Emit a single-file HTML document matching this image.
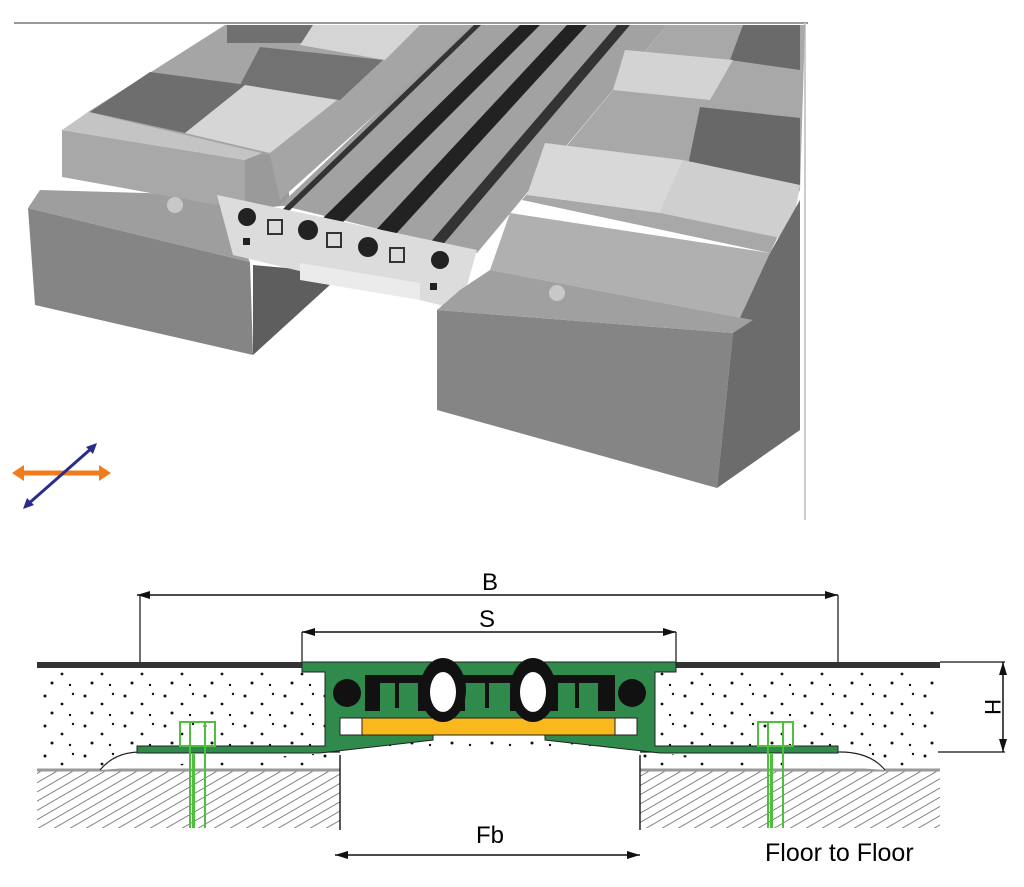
<!DOCTYPE html>
<html><head><meta charset="utf-8"><style>
html,body{margin:0;padding:0;background:#fff}
svg{display:block}
text{font-family:"Liberation Sans",sans-serif}
</style></head><body>
<svg width="1024" height="887" viewBox="0 0 1024 887" xmlns="http://www.w3.org/2000/svg">
<defs>
<pattern id="hatch" width="8" height="8" patternUnits="userSpaceOnUse" patternTransform="rotate(60)">
<rect width="8" height="8" fill="#fff"/><line x1="0" y1="0" x2="0" y2="8" stroke="#444" stroke-width="1.3"/>
</pattern>
<pattern id="speck" width="40" height="30" patternUnits="userSpaceOnUse">
<rect width="40" height="30" fill="#fff"/>
<circle cx="5" cy="6" r="1.5" fill="#111"/><circle cx="22" cy="14" r="1.4" fill="#111"/>
<circle cx="33" cy="4" r="1.2" fill="#111"/><circle cx="12" cy="23" r="1.5" fill="#111"/>
<circle cx="30" cy="25" r="1.2" fill="#111"/>
</pattern>
</defs>
<line x1="14" y1="23" x2="808" y2="23" stroke="#999" stroke-width="2"/>
<line x1="805" y1="23" x2="805" y2="520" stroke="#ccc" stroke-width="2"/>

<!-- left block -->
<polygon points="28,208 250,262 253,355 35,305" fill="#858585"/>
<polygon points="253,265 343,273 253,355" fill="#5e5e5e"/>
<polygon points="28,208 40,190 217,195 250,262" fill="#9e9e9e"/>
<!-- left mortar -->
<polygon points="62,130 245,160 245,210 62,177" fill="#a8a8a8"/>
<polygon points="245,155 285,148 290,205 245,210" fill="#9a9a9a"/>
<polygon points="62,130 88,112 270,150 245,160" fill="#c4c4c4"/>
<!-- left tiles -->
<polygon points="88,112 225,25 475,25 280,200 270,155" fill="#a5a5a5"/>
<polygon points="227,25 333,25 313,43 227,43" fill="#707070"/>
<polygon points="313,25 420,25 385,60 300,45" fill="#d5d5d5"/>
<polygon points="260,47 383,60 340,100 240,85" fill="#727272"/>
<polygon points="90,112 150,72 247,85 185,133" fill="#6e6e6e"/>
<polygon points="185,133 245,85 337,100 270,153" fill="#d6d6d6"/>

<!-- center strip -->
<polygon points="470,25 667,25 477,253 280,205" fill="#a2a2a2"/>
<polygon points="474,25 481,25 288,212 282,210" fill="#333"/>
<polygon points="520,25 540,25 343,222 323,218" fill="#222"/>
<polygon points="567,25 587,25 395,235 375,231" fill="#222"/>
<polygon points="617,25 630,25 440,248 428,245" fill="#333"/>
<!-- profile end-face -->
<polygon points="217,195 477,250 460,310 420,300 233,255" fill="#dcdcdc"/>
<polygon points="300,263 420,283 420,300 300,280" fill="#ebebeb"/>
<circle cx="247" cy="217" r="9" fill="#222"/><circle cx="308" cy="230" r="10" fill="#222"/>
<circle cx="368" cy="247" r="10" fill="#222"/><circle cx="440" cy="260" r="9" fill="#222"/>
<rect x="243" y="238" width="7" height="7" fill="#222"/><rect x="430" y="283" width="7" height="7" fill="#222"/>
<rect x="268" y="220" width="14" height="14" fill="none" stroke="#333" stroke-width="2"/>
<rect x="327" y="233" width="14" height="14" fill="none" stroke="#333" stroke-width="2"/>
<rect x="390" y="248" width="14" height="14" fill="none" stroke="#333" stroke-width="2"/>

<!-- right tiles -->
<polygon points="522,200 667,25 805,25 800,190 770,253" fill="#a8a8a8"/>
<polygon points="743,25 800,25 800,70 730,60" fill="#6a6a6a"/>
<polygon points="625,50 733,60 710,100 613,90" fill="#d3d3d3"/>
<polygon points="700,107 800,118 800,185 687,170" fill="#686868"/>
<polygon points="545,143 683,160 660,213 527,195" fill="#d8d8d8"/>
<polygon points="683,160 800,185 790,240 660,213" fill="#cfcfcf"/>
<!-- right mortar -->
<polygon points="510,213 770,253 753,320 490,270" fill="#b0b0b0"/>
<!-- right block -->
<polygon points="437,310 733,333 717,488 437,410" fill="#858585"/>
<polygon points="770,253 800,200 800,430 717,488 733,333" fill="#6c6c6c"/>
<polygon points="460,290 490,270 753,320 733,333 437,310" fill="#a0a0a0"/>
<circle cx="175" cy="205" r="8" fill="#c8c8c8"/><circle cx="557" cy="293" r="8" fill="#c8c8c8"/>

<!-- arrows -->
<line x1="18" y1="473" x2="105" y2="473" stroke="#f07c1e" stroke-width="5"/>
<polygon points="12,473 24,465 24,481" fill="#f07c1e"/><polygon points="111,473 99,465 99,481" fill="#f07c1e"/>
<line x1="27" y1="505" x2="93" y2="447" stroke="#2b2b8c" stroke-width="3"/>
<polygon points="97,443 86,447 93,454" fill="#2b2b8c"/><polygon points="23,509 27,498 34,505" fill="#2b2b8c"/>

<!-- bottom section -->
<text x="490" y="590" font-size="24" text-anchor="middle">B</text>
<line x1="137" y1="595" x2="838" y2="595" stroke="#111" stroke-width="1.5"/>
<polygon points="137,595 150,591 150,599" fill="#111"/><polygon points="838,595 825,591 825,599" fill="#111"/>
<line x1="140" y1="595" x2="140" y2="662" stroke="#111" stroke-width="1.2"/>
<line x1="838" y1="595" x2="838" y2="672" stroke="#111" stroke-width="1.2"/>
<line x1="830" y1="678" x2="846" y2="678" stroke="#111" stroke-width="1.5"/>
<text x="487" y="627" font-size="24" text-anchor="middle">S</text>
<line x1="302" y1="632" x2="676" y2="632" stroke="#111" stroke-width="1.5"/>
<polygon points="302,632 315,628 315,636" fill="#111"/><polygon points="676,632 663,628 663,636" fill="#111"/>
<line x1="302" y1="632" x2="302" y2="662" stroke="#111" stroke-width="1.2"/>
<line x1="676" y1="632" x2="676" y2="662" stroke="#111" stroke-width="1.2"/>
<rect x="37" y="667" width="903" height="103" fill="url(#speck)"/>
<rect x="37" y="662" width="265" height="6" fill="#333"/>
<rect x="676" y="662" width="264" height="6" fill="#333"/>
<rect x="37" y="770" width="303" height="58" fill="url(#hatch)"/>
<rect x="640" y="770" width="300" height="58" fill="url(#hatch)"/>
<line x1="37" y1="770" x2="340" y2="770" stroke="#999" stroke-width="3"/>
<line x1="640" y1="770" x2="940" y2="770" stroke="#999" stroke-width="3"/>
<rect x="340" y="752" width="300" height="80" fill="#fff"/>
<line x1="340" y1="755" x2="340" y2="830" stroke="#222" stroke-width="1.5"/>
<line x1="640" y1="755" x2="640" y2="830" stroke="#222" stroke-width="1.5"/>
<path d="M100,770 Q115,752 140,752 L340,752" fill="#fff" stroke="#222" stroke-width="1.2"/>
<path d="M640,752 L840,752 Q870,752 885,770" fill="#fff" stroke="#222" stroke-width="1.2"/>
<path d="M302,662 L676,662 L676,672 L655,672 L655,746 L838,746 L838,753 L660,753 L545,740 L545,733 L433,733 L433,740 L320,753 L137,753 L137,746 L325,746 L325,672 L302,672 Z" fill="#2f8a4c" stroke="#222" stroke-width="1"/>
<rect x="340" y="718" width="22" height="17" fill="#fff" stroke="#222"/>
<rect x="615" y="718" width="22" height="17" fill="#fff" stroke="#222"/>
<rect x="362" y="718" width="253" height="17" fill="#f9b81c" stroke="#222"/>
<circle cx="347" cy="693" r="14" fill="#111"/><circle cx="632" cy="693" r="14" fill="#111"/>
<rect x="365" y="675" width="250" height="36" fill="#111"/>
<rect x="380" y="683" width="38" height="30" fill="#2f8a4c"/><rect x="465" y="683" width="45" height="30" fill="#2f8a4c"/><rect x="558" y="683" width="40" height="30" fill="#2f8a4c"/>
<rect x="395" y="683" width="4" height="25" fill="#111"/><rect x="485" y="683" width="4" height="25" fill="#111"/><rect x="575" y="683" width="4" height="25" fill="#111"/>
<ellipse cx="443" cy="690" rx="23" ry="32" fill="#111"/><ellipse cx="443" cy="692" rx="13" ry="20" fill="#fff"/>
<ellipse cx="533" cy="690" rx="23" ry="32" fill="#111"/><ellipse cx="533" cy="692" rx="13" ry="20" fill="#fff"/>
<g fill="none" stroke="#4fbf3e" stroke-width="2">
<rect x="180" y="722" width="35" height="24"/><line x1="190" y1="722" x2="190" y2="828"/><line x1="205" y1="722" x2="205" y2="828"/>
<rect x="758" y="722" width="35" height="24"/><line x1="768" y1="722" x2="768" y2="828"/><line x1="783" y1="722" x2="783" y2="828"/>
</g>
<rect x="192" y="753" width="3" height="75" fill="#4fbf3e"/><rect x="770" y="753" width="3" height="75" fill="#4fbf3e"/>
<text x="490" y="843" font-size="24" text-anchor="middle">Fb</text>
<line x1="335" y1="855" x2="640" y2="855" stroke="#111" stroke-width="1.5"/>
<polygon points="335,855 348,851 348,859" fill="#111"/><polygon points="640,855 627,851 627,859" fill="#111"/>
<line x1="940" y1="662" x2="1005" y2="662" stroke="#111" stroke-width="1.2"/>
<line x1="938" y1="752" x2="1005" y2="752" stroke="#111" stroke-width="1.2"/>
<line x1="1003" y1="662" x2="1003" y2="752" stroke="#111" stroke-width="1.5"/>
<polygon points="1003,662 999,675 1007,675" fill="#111"/><polygon points="1003,752 999,739 1007,739" fill="#111"/>
<text x="985" y="707" font-size="22" text-anchor="middle" transform="rotate(90 985 707)">H</text>
<text x="765" y="861" font-size="25">Floor to Floor</text>
</svg>
</body></html>
